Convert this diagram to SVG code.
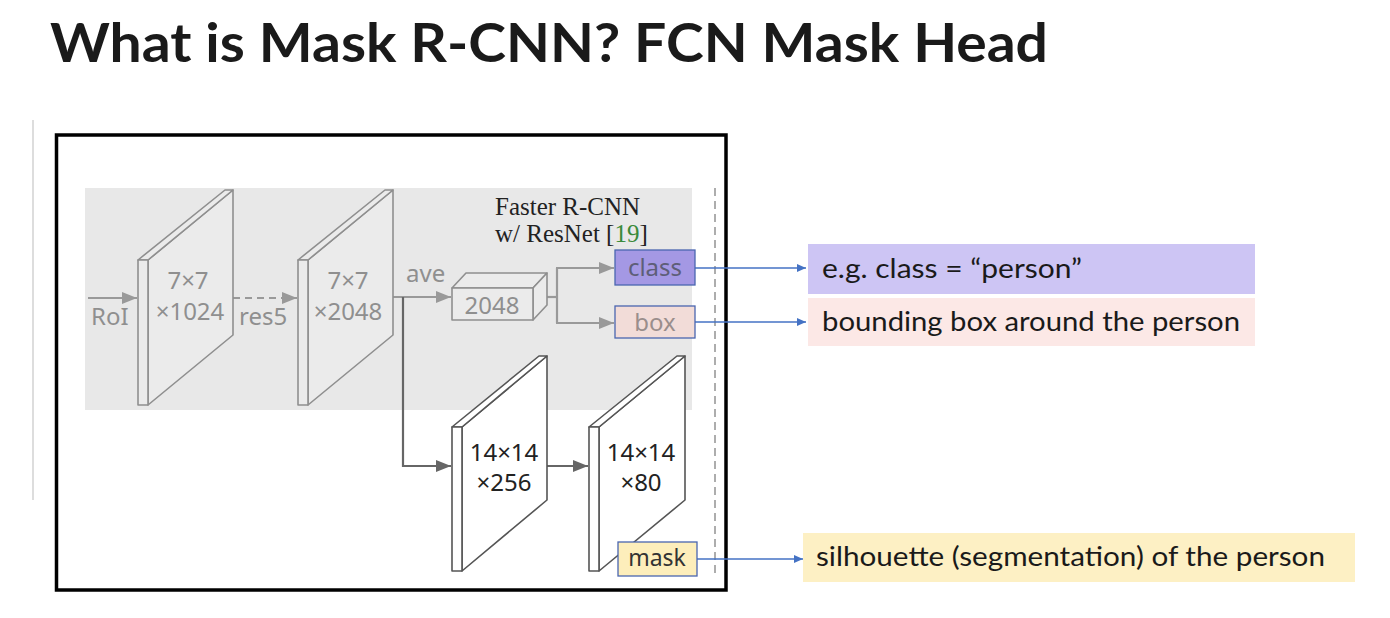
<svg xmlns="http://www.w3.org/2000/svg" width="1390" height="618" viewBox="0 0 1390 618">
<style>
.title{font-family:Lato,"Open Sans","Liberation Sans",sans-serif;font-weight:700;font-size:54px;fill:#1a1a1a}
.glab{font-family:"Noto Sans","Open Sans","Liberation Sans",sans-serif;font-size:24px;fill:#8f8f8f}
.dlab{font-family:"Noto Sans","Open Sans","Liberation Sans",sans-serif;font-size:24px;fill:#222}
.serif{font-family:"Liberation Serif","DejaVu Serif",serif;font-size:25px;fill:#222}
.desc{font-family:Lato,"Open Sans","Liberation Sans",sans-serif;font-size:26px;fill:#1a1a1a}
.gslab{fill:#ebebeb;stroke:#8f8f8f;stroke-width:1.6;stroke-linejoin:round}
.wslab{fill:#fff;stroke:#555;stroke-width:1.6;stroke-linejoin:round}
.garr{fill:none;stroke:#999;stroke-width:2.2}
.darr{fill:none;stroke:#666;stroke-width:2.2}
.barr{fill:none;stroke:#4472c4;stroke-width:1.3}
</style>
<defs>
<marker id="ga" markerUnits="userSpaceOnUse" markerWidth="16" markerHeight="12" refX="15" refY="6" orient="auto"><path d="M0,0 L15,6 L0,12 z" fill="#999"/></marker>
<marker id="da" markerUnits="userSpaceOnUse" markerWidth="16" markerHeight="12" refX="15" refY="6" orient="auto"><path d="M0,0 L15,6 L0,12 z" fill="#666"/></marker>
<marker id="ba" markerUnits="userSpaceOnUse" markerWidth="10" markerHeight="8" refX="9" refY="4" orient="auto"><path d="M0,0 L9,4 L0,8 z" fill="#4472c4"/></marker>
</defs>
<rect width="1390" height="618" fill="#fff"/>
<text class="title" x="50" y="62" textLength="998" lengthAdjust="spacingAndGlyphs">What is Mask R-CNN? FCN Mask Head</text>
<line x1="33" y1="120" x2="33" y2="500" stroke="#ddd" stroke-width="2"/>
<rect id="frame" x="56.5" y="135" width="669.5" height="455" fill="#fff" stroke="#000" stroke-width="3.5"/>
<rect id="faster-rcnn-region" x="85" y="188" width="607" height="222" fill="#e8e8e8"/>
<line x1="715" y1="188" x2="715" y2="576" stroke="#999" stroke-width="1.6" stroke-dasharray="8 5"/>

<g id="connectors">
<line class="garr" x1="88" y1="298" x2="137" y2="298" marker-end="url(#ga)"/>
<line class="garr" x1="233" y1="298" x2="297" y2="298" stroke-dasharray="7 5" marker-end="url(#ga)"/>
<line class="garr" x1="393" y1="297" x2="451" y2="297" marker-end="url(#ga)"/>
<line class="garr" x1="547" y1="297" x2="557" y2="297"/>
<polyline class="garr" points="557,268 557,323"/>
<line class="garr" x1="556" y1="268" x2="614" y2="268" marker-end="url(#ga)"/>
<line class="garr" x1="556" y1="323" x2="614" y2="323" marker-end="url(#ga)"/>
<polyline class="darr" points="403,297 403,466 451,466" marker-end="url(#da)"/>
<line class="darr" x1="540" y1="466" x2="588" y2="466" marker-end="url(#da)"/>
<line class="barr" x1="695" y1="268" x2="806" y2="268" marker-end="url(#ba)"/>
<line class="barr" x1="695" y1="322" x2="806" y2="322" marker-end="url(#ba)"/>
<line class="barr" x1="697" y1="559" x2="803" y2="559" marker-end="url(#ba)"/>
</g>

<g id="roi-label"><text class="glab" x="91" y="325">RoI</text></g>
<g id="res5-label"><text class="glab" x="239" y="325">res5</text></g>
<g id="ave-label"><text class="glab" x="406" y="282">ave</text></g>

<g id="slab1">
<polygon class="gslab" points="148,260 233,190 233,335 148,405"/>
<polygon class="gslab" points="138,260 225,190 233,190 148,260"/>
<rect class="gslab" x="138" y="260" width="10" height="145"/>
<text class="glab" x="188" y="289" text-anchor="middle">7×7</text>
<text class="glab" x="190" y="320" text-anchor="middle">×1024</text>
</g>
<g id="slab2">
<polygon class="gslab" points="308,260 393,190 393,335 308,405"/>
<polygon class="gslab" points="298,260 385,190 393,190 308,260"/>
<rect class="gslab" x="298" y="260" width="10" height="145"/>
<text class="glab" x="348" y="289" text-anchor="middle">7×7</text>
<text class="glab" x="348" y="320" text-anchor="middle">×2048</text>
</g>
<g id="vec2048">
<polygon class="gslab" points="452,288 466,273 547,273 533,288"/>
<polygon class="gslab" points="533,288 547,273 547,305 533,320"/>
<rect class="gslab" x="452" y="288" width="81" height="32"/>
<text class="glab" x="492" y="314" text-anchor="middle">2048</text>
</g>
<g id="faster-label">
<text class="serif" x="495" y="215">Faster R-CNN</text>
<text class="serif" x="495" y="242">w/ ResNet [<tspan fill="#3a8a3a">19</tspan>]</text>
</g>
<g id="class-box">
<rect x="615" y="250" width="80" height="35" fill="#a498e4" stroke="#4a66b0" stroke-width="1.3"/>
<text class="glab" x="655" y="276" text-anchor="middle" style="fill:#5e5e78">class</text>
</g>
<g id="box-box">
<rect x="615" y="306" width="80" height="32" fill="#f2dcd8" stroke="#4a66b0" stroke-width="1.3"/>
<text class="glab" x="655" y="331" text-anchor="middle" style="fill:#9a8e8c">box</text>
</g>

<g id="slab3">
<polygon class="wslab" points="462,427 547,356 547,500 462,571"/>
<polygon class="wslab" points="452,427 539,356 547,356 462,427"/>
<rect class="wslab" x="452" y="427" width="10" height="144"/>
<text class="dlab" x="504" y="461" text-anchor="middle">14×14</text>
<text class="dlab" x="504" y="491" text-anchor="middle">×256</text>
</g>
<g id="slab4">
<polygon class="wslab" points="599,427 685,356 685,500 599,571"/>
<polygon class="wslab" points="589,427 677,356 685,356 599,427"/>
<rect class="wslab" x="589" y="427" width="10" height="144"/>
<text class="dlab" x="641" y="461" text-anchor="middle">14×14</text>
<text class="dlab" x="641" y="491" text-anchor="middle">×80</text>
</g>
<g id="mask-box">
<rect x="618" y="542" width="79" height="34" fill="#fdeebb" stroke="#4a66b0" stroke-width="1.3"/>
<text class="dlab" x="657" y="566" text-anchor="middle" style="font-size:23px;fill:#333">mask</text>
</g>

<g id="desc-class">
<rect x="808" y="244" width="447" height="50" fill="#cdc5f4"/>
<text class="desc" x="822" y="278" textLength="260" lengthAdjust="spacingAndGlyphs">e.g. class = “person”</text>
</g>
<g id="desc-box">
<rect x="808" y="298" width="447" height="48" fill="#fce8e6"/>
<text class="desc" x="822" y="331" textLength="418" lengthAdjust="spacingAndGlyphs">bounding box around the person</text>
</g>
<g id="desc-mask">
<rect x="803" y="533" width="552" height="49" fill="#fdf0c4"/>
<text class="desc" x="816" y="566" textLength="509" lengthAdjust="spacingAndGlyphs">silhouette (segmentation) of the person</text>
</g>
</svg>
